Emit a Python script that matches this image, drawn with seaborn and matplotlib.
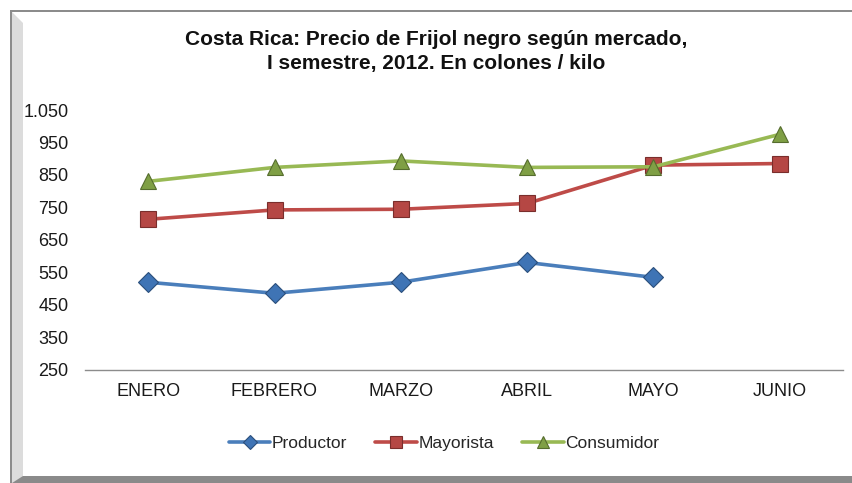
import pandas as pd
import numpy as np
import seaborn as sns
import matplotlib.pyplot as plt
from matplotlib.patches import Polygon, Rectangle
from matplotlib.ticker import FuncFormatter

# data (colones / kilo)
meses = ["ENERO", "FEBRERO", "MARZO", "ABRIL", "MAYO", "JUNIO"]
productor = [519, 485, 519, 580, 534, np.nan]
mayorista = [713, 742, 744, 762, 880, 885]
consumidor = [830, 873, 893, 873, 875, 975]

series = ["Productor", "Mayorista", "Consumidor"]
line_colors = ["#4a7ebb", "#be4b48", "#98b954"]
face_colors = ["#3f74b5", "#b54744", "#7f9f45"]
edge_colors = ["#2b4f7c", "#7a2e2c", "#566d2e"]
markers = ["D", "s", "^"]
sizes = [10, 11.5, 12]

df = pd.DataFrame({"mes": meses * 3,
                   "serie": np.repeat(series, len(meses)),
                   "precio": productor + mayorista + consumidor})

sns.set_theme(style="white")
plt.rcParams['font.family'] = ['Liberation Sans', 'DejaVu Sans']

W, H = 852, 483
fig = plt.figure(figsize=(W / 100, H / 100), dpi=100)
ax = fig.add_axes([85 / W, 1 - 369.5 / H, 758 / W, 259.5 / H])

for name, lc, fc, ec, m, ms in zip(series, line_colors, face_colors, edge_colors, markers, sizes):
    sns.lineplot(data=df[df["serie"] == name], x="mes", y="precio", ax=ax,
                 color=lc, lw=2.6, marker=m, markersize=ms,
                 markerfacecolor=fc, markeredgecolor=ec, markeredgewidth=0.8,
                 label=name)

ax.set_xlim(-0.5, 5.5)
ax.set_ylim(250, 1050)
ax.set_yticks(range(250, 1051, 100))
ax.yaxis.set_major_formatter(FuncFormatter(lambda v, p: f"{int(v):,}".replace(",", ".")))
ax.set_xlabel("")
ax.set_ylabel("")
ax.grid(False)
for s in ["top", "right", "left"]:
    ax.spines[s].set_visible(False)
ax.spines["bottom"].set_color("#8c8c8c")
ax.spines["bottom"].set_linewidth(1.0)
ax.tick_params(axis="x", length=0, pad=10, labelsize=13, labelcolor="#1a1a1a")
ax.tick_params(axis="y", length=0, pad=12, labelsize=13, labelcolor="#1a1a1a")

ax.legend(loc="center", bbox_to_anchor=(444 / W, 1 - 443 / H), bbox_transform=fig.transFigure,
          ncol=3, frameon=False, fontsize=12.5, handlelength=2.4, handletextpad=0.1,
          columnspacing=1.6, markerscale=0.75)

fig.text(436 / W, 1 - 30 / H,
         "Costa Rica: Precio de Frijol negro según mercado,\nI semestre, 2012. En colones / kilo",
         ha="center", va="top", fontsize=15, fontweight="bold", linespacing=1.3, color="#111111")

# chart frame with bevel, like the original picture
def px(x, y):
    return (x / W, 1 - y / H)

fig.patches.append(Polygon([px(12, 12), px(23, 23), px(23, 477), px(12, 483)], closed=True,
                           transform=fig.transFigure, facecolor="#dcdcdc", edgecolor="none"))
fig.patches.append(Polygon([px(12, 483), px(23, 476), px(852, 476), px(852, 483)], closed=True,
                           transform=fig.transFigure, facecolor="#8a8a8a", edgecolor="none"))
fig.patches.append(Rectangle(px(10, 483), 2 / W, 473 / H, transform=fig.transFigure,
                             facecolor="#8c8c8c", edgecolor="none"))
fig.patches.append(Rectangle(px(10, 12), 842 / W, 2 / H, transform=fig.transFigure,
                             facecolor="#8c8c8c", edgecolor="none"))

fig.savefig("out.png", dpi=100)
